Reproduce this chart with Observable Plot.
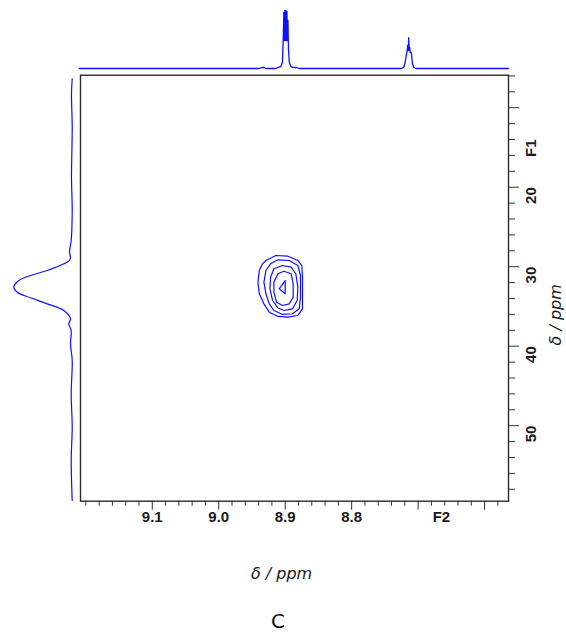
<!DOCTYPE html>
<html><head><meta charset="utf-8">
<script src="https://cdn.jsdelivr.net/npm/d3@7"></script>
<script src="https://cdn.jsdelivr.net/npm/@observablehq/plot@0.6"></script>
<style>
body{margin:0;background:#fff;}
#wrap{position:relative;width:566px;height:635px;overflow:hidden;background:#fff;}
#wrap svg{position:absolute;left:0;top:0;}
#cap{position:absolute;left:0;width:556px;top:609px;text-align:center;font:20px "DejaVu Sans";color:#111;line-height:normal;}
</style></head><body><div id="wrap"><div id="cap">C</div></div>
<script>
// ---- Data (ppm) ----
// F2 (1H) projection on top: chemical shift and relative intensity
const topPpm = [9.2097,8.9397,8.9351,8.9321,8.9291,8.9140,8.9110,8.9065,8.9042,8.9030,8.9020,8.9012,8.9005,8.8997,8.8989,8.8982,8.8974,8.8967,8.8959,8.8950,8.8937,8.8914,8.8869,8.8824,8.8793,8.7255,8.7217,8.7195,8.7179,8.7164,8.7157,8.7149,8.7142,8.7134,8.7127,8.7119,8.7104,8.7097,8.7089,8.7066,8.7029,8.5641];
const topInt = [0,0,0.017,0.017,0,0,0.017,0.034,0.103,0.483,0.966,0.483,1.0,0.483,1.0,0.483,0.983,0.483,0.828,0.310,0.103,0.034,0.017,0.017,0,0,0.017,0.103,0.224,0.310,0.397,0.310,0.534,0.310,0.362,0.276,0.276,0.224,0.103,0.017,0,0];
// F1 (13C) projection on the left
const leftPpm = [6.36,8.25,12.45,18.74,22.93,26.70,28.18,28.81,29.22,29.64,30.48,31.11,31.74,32.58,33.21,33.91,34.67,35.51,36.55,37.18,38.03,39.70,41.80,45.99,50.19,54.38,59.41];
const leftInt = [0.005,0.017,0.005,0.017,0.005,0.022,0.051,0.034,0.051,0.147,0.429,0.712,0.910,0.995,0.937,0.712,0.429,0.147,0.034,0.063,0.022,0.034,0.005,0.022,0.005,0.022,0.005];
// 2D contour levels: [F2 ppm, F1 ppm]
const contour1 = [[8.929,29.22],[8.914,28.59],[8.896,28.68],[8.881,29.22],[8.875,29.85],[8.874,31.32],[8.874,33.84],[8.874,35.30],[8.881,36.14],[8.896,36.35],[8.911,36.26],[8.924,35.72],[8.932,34.67],[8.939,33.41],[8.941,31.95],[8.939,30.48],[8.934,29.64]];
const contour2 = [[8.922,29.64],[8.911,29.13],[8.894,29.22],[8.881,29.85],[8.877,31.11],[8.877,33.84],[8.879,35.30],[8.889,35.92],[8.904,36.01],[8.917,35.51],[8.924,34.67],[8.929,33.41],[8.932,31.95],[8.929,30.48]];
const contour3 = [[8.917,30.26],[8.904,29.85],[8.891,30.06],[8.884,30.89],[8.881,32.58],[8.882,34.25],[8.889,35.30],[8.902,35.51],[8.911,35.17],[8.919,34.25],[8.923,32.78],[8.922,31.32]];
const contour4 = [[8.911,30.89],[8.902,30.57],[8.891,30.89],[8.888,32.15],[8.888,33.84],[8.894,34.67],[8.904,34.88],[8.913,34.47],[8.917,33.21],[8.917,31.95]];
const contour5 = [[8.900,31.74],[8.900,33.41],[8.909,32.78]];
// Axes
const xMinorTicks = [9.20,9.18,9.16,9.14,9.12,9.08,9.06,9.04,9.02,8.98,8.96,8.94,8.92,8.88,8.86,8.84,8.82,8.78,8.76,8.74,8.72,8.68,8.66,8.64,8.62,8.58];
const xMajorTicks = [9.1,9.0,8.9,8.8,8.7,8.6];
const xLabelPos = [9.1,9.0,8.9,8.8,8.665];
const xLabelText = ["9.1","9.0","8.9","8.8","F2"];
const yMinorTicks = [6,8,12,14,16,18,22,24,26,28,32,34,36,38,42,44,46,48,52,54,56,58];
const yMajorTicks = [10,20,30,40,50];
const yLabelPos = [14.0,20,30,40,50];
const yLabelText = ["F1","20","30","40","50"];
const axisTitle = "δ / ppm";

// ---- Build ----
const xDomain = [9.208, 8.564];
const yDomain = [5.91, 59.5];
const blue = "#1010ff";
const W = 566, H = 600, mL = 80, mR = 58, mT = 74.7, mB = 99.3;
const transparent = {background: "transparent", overflow: "visible"};

const topData = topPpm.map((p, i) => ({ppm: p, i: topInt[i]}));
const leftData = leftPpm.map((p, i) => ({ppm: p, i: leftInt[i]}));
const contours = [contour1, contour2, contour3, contour4, contour5]
  .flatMap((c, k) => c.map(([f2, f1]) => ({f2, f1, level: k})));

const tickFont = {fontFamily: "Liberation Sans, Arial, sans-serif", fontWeight: "bold", fontSize: 15, fill: "#1a1a1a"};
const titleFont = {fontFamily: "DejaVu Sans, sans-serif", fontStyle: "italic", fontSize: 16, fill: "#1a1a1a"};

const main = Plot.plot({
  width: W, height: H,
  marginLeft: mL, marginRight: mR, marginTop: mT, marginBottom: mB,
  x: {domain: xDomain, axis: null},
  y: {domain: yDomain, reverse: true, axis: null},
  style: transparent,
  marks: [
    Plot.line(contours, {x: "f2", y: "f1", z: "level", curve: "linear-closed", stroke: blue, strokeWidth: 1.2}),
    Plot.frame({stroke: "#2a2a2a", strokeWidth: 1.4}),
    Plot.axisX({anchor: "bottom", ticks: xMinorTicks, tickSize: 5, tickFormat: () => "", label: null, color: "#333"}),
    Plot.axisX({anchor: "bottom", ticks: xMajorTicks, tickSize: 9, tickFormat: () => "", label: null, color: "#333"}),
    Plot.axisY({anchor: "right", ticks: yMinorTicks, tickSize: 6, tickFormat: () => "", label: null, color: "#333"}),
    Plot.axisY({anchor: "right", ticks: yMajorTicks, tickSize: 10, tickFormat: () => "", label: null, color: "#333"}),
    Plot.text(xLabelPos, {x: d => d, text: (d, i) => xLabelText[i], frameAnchor: "bottom", dy: 21, ...tickFont}),
    Plot.text(yLabelPos, {y: d => d, text: (d, i) => yLabelText[i], frameAnchor: "right", dx: 23, rotate: -90, ...tickFont}),
    Plot.text([axisTitle], {text: d => d, frameAnchor: "right", dx: 47, dy: -4, rotate: -90, ...titleFont}),
    Plot.text([axisTitle], {text: d => d, frameAnchor: "bottom", dx: -13, dy: 78, ...titleFont})
  ]
});

const topPlot = Plot.plot({
  width: W, height: 74,
  marginLeft: mL, marginRight: mR, marginTop: 10, marginBottom: 6,
  x: {domain: xDomain, axis: null},
  y: {domain: [0, 1], axis: null},
  style: transparent,
  marks: [Plot.line(topData, {x: "ppm", y: "i", stroke: blue, strokeWidth: 1.3})]
});

const leftPlot = Plot.plot({
  width: 80, height: H,
  marginLeft: 13, marginRight: 8, marginTop: mT, marginBottom: mB,
  x: {domain: [0, 1], reverse: true, axis: null},
  y: {domain: yDomain, reverse: true, axis: null},
  style: transparent,
  marks: [Plot.line(leftData, {x: "i", y: "ppm", curve: "catmull-rom", stroke: blue, strokeWidth: 1.2})]
});

const wrap = document.getElementById("wrap");
wrap.prepend(main);
wrap.appendChild(topPlot);
wrap.appendChild(leftPlot);
</script>
</body></html>
